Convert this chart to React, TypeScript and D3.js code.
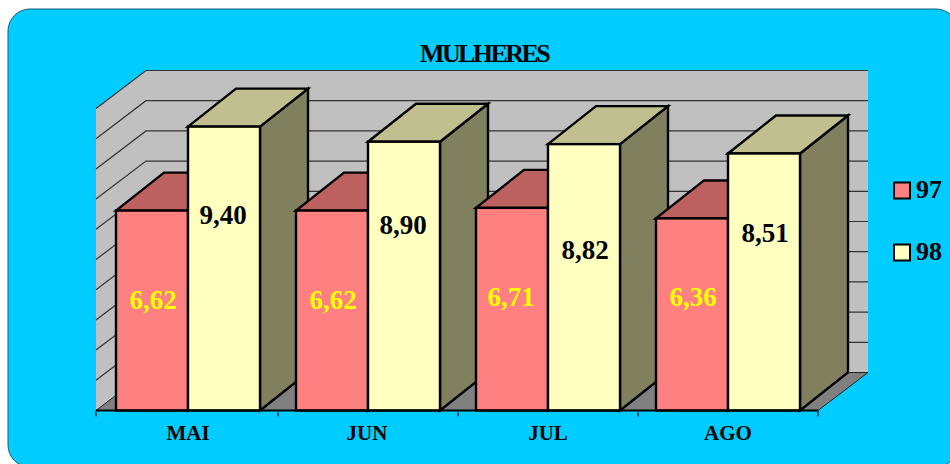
import React from "react";
import * as d3 from "d3";

const categories = ["MAI", "JUN", "JUL", "AGO"];
const seriesNames = ["97", "98"];
const values97 = [6.62, 6.62, 6.71, 6.36];
const values98 = [9.4, 8.9, 8.82, 8.51];
const labels97 = ["6,62", "6,62", "6,71", "6,36"];
const labels98 = ["9,40", "8,90", "8,82", "8,51"];
const gridTicks = [0, 1, 2, 3, 4, 5, 6, 7, 8, 9, 10];

const serif = "'Liberation Serif', serif";
const DX = 50;
const DY = -38;
const BDX = 48;

const x = d3.scaleBand<string>().domain(categories).range([98, 818]).paddingInner(0).paddingOuter(0);
const y = d3.scaleLinear().domain([0, 10]).range([410.5, 108.5]);
const pts = (p: [number, number][]) => p.map((q) => q.join(",")).join(" ");

function Bar({ x0, w, v, front, top, side }: { x0: number; w: number; v: number; front: string; top: string; side: string }) {
  const yt = y(v);
  const yb = y(0);
  const s = { stroke: "#000", strokeWidth: 2.4, strokeLinejoin: "miter" as const };
  return (
    <g>
      <polygon points={pts([[x0 + w, yb], [x0 + w + BDX, yb + DY], [x0 + w + BDX, yt + DY], [x0 + w, yt]])} fill={side} {...s} />
      <polygon points={pts([[x0, yt], [x0 + BDX, yt + DY], [x0 + w + BDX, yt + DY], [x0 + w, yt]])} fill={top} {...s} />
      <rect x={x0} y={yt} width={w} height={yb - yt} fill={front} {...s} />
    </g>
  );
}

export default function App() {
  const y0 = y(0);
  const band = x.bandwidth();
  const barW = 72;
  const inset = 18;
  const barStart = (c: string) => (c === "MAI" ? 116 : (x(c) as number) + inset);
  return (
    <svg width={950} height={464} style={{ position: "absolute", left: 0, top: 0 }}>
      <rect x={8} y={9} width={950} height={458} rx={22} ry={22} fill="#00CCFF" stroke="#1a5a70" strokeWidth={1} />
      <text x={484} y={62} textAnchor="middle" fontFamily={serif} fontWeight="bold" fontSize={26} letterSpacing={-2.6}>MULHERES</text>

      <polygon points={pts([[96, y(10)], [96 + DX, y(10) + DY], [818 + DX, y(10) + DY], [818 + DX, y0 + DY], [96 + DX, y0 + DY], [96, y0]])} fill="#C0C0C0" />
      <polygon points={pts([[96, y0], [96 + DX, y0 + DY], [818 + DX, y0 + DY], [818, y0]])} fill="#808080" stroke="#222" strokeWidth={1} />
      {gridTicks.slice(1).map((t) => (
        <polyline key={t} points={pts([[96, y(t)], [96 + DX, y(t) + DY], [818 + DX, y(t) + DY]])} fill="none" stroke="#333" strokeWidth={1.2} />
      ))}

      {categories.map((c, i) => {
        const x0 = barStart(c);
        return (
          <g key={c}>
            <Bar x0={x0} w={barW} v={values97[i]} front="#FF8080" top="#BC6060" side="#BC6060" />
            <Bar x0={x0 + barW} w={barW} v={values98[i]} front="#FFFFC0" top="#BFBF90" side="#80805F" />
          </g>
        );
      })}

      <line x1={96} x2={818} y1={y0} y2={y0} stroke="#000" strokeWidth={2} />
      {[96, ...categories.slice(1).map((c) => x(c) as number), 818].map((t) => (
        <line key={t} x1={t} x2={t} y1={y0} y2={y0 + 6} stroke="#0a3a4a" strokeWidth={1.5} />
      ))}
      {categories.map((c) => (
        <text key={c} x={(x(c) as number) + band / 2 - (c === "JUN" ? 1 : 0)} y={440} textAnchor="middle" fontFamily={serif} fontWeight="bold" fontSize={21}>{c}</text>
      ))}

      {categories.map((c, i) => {
        const x0 = barStart(c);
        const ly = [309, 309, 306, 306][i];
        const ly2 = [224, 234, 259, 242][i];
        const lx = [1, 1, -1, 1][i];
        const lx2 = [-1, -1, 1, 1][i];
        return (
          <g key={c} fontFamily={serif} fontWeight="bold" fontSize={27} textAnchor="middle">
            <text x={x0 + barW / 2 + lx} y={ly} fill="#FFFF00">{labels97[i]}</text>
            <text x={x0 + barW * 1.5 + lx2} y={ly2} fill="#000">{labels98[i]}</text>
          </g>
        );
      })}

      {seriesNames.map((n, i) => (
        <g key={n}>
          <rect x={894} y={182.5 + i * 62} width={16} height={16} fill={i === 0 ? "#FF8080" : "#FFFFC0"} stroke="#000" strokeWidth={2} />
          <text x={916} y={198 + i * 62} fontFamily={serif} fontWeight="bold" fontSize={26}>{n}</text>
        </g>
      ))}
    </svg>
  );
}
